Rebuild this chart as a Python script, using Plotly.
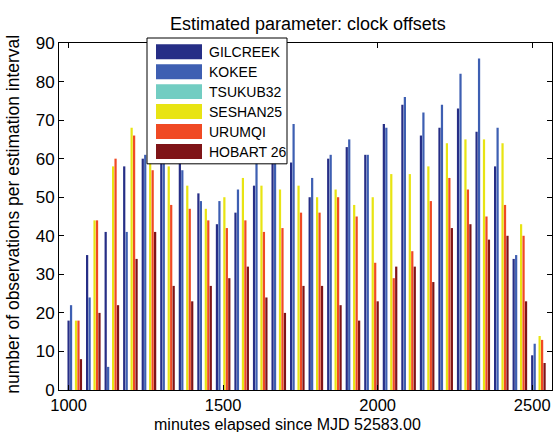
import plotly.graph_objects as go

# ---- data ----
minutes = [1020 + 60 * i for i in range(26)]
stations = ["GILCREEK", "KOKEE", "TSUKUB32", "SESHAN25", "URUMQI", "HOBART 26"]
colors = ["#262e86", "#3e5fb2", "#72cdc2", "#e8e413", "#f04a24", "#7f1417"]

gilcreek = [18, 35, 41, 58, 60, 64, 60, 51, 43, 46, 53, 62, 59, 50, 60, 63, 61, 69, 74, 66, 68, 73, 67, 58, 34, 9]
kokee    = [22, 24, 6, 41, 61, 62, 57, 49, 49, 52, 61, 66, 69, 55, 61, 65, 61, 68, 76, 72, 74, 82, 86, 68, 35, 12]
tsukub32 = [0] * 26
seshan25 = [18, 44, 58, 68, 62, 58, 53, 47, 50, 55, 53, 52, 53, 50, 52, 48, 50, 56, 56, 58, 64, 65, 65, 64, 43, 14]
urumqi   = [18, 44, 60, 66, 57, 48, 47, 44, 42, 44, 41, 42, 46, 46, 50, 45, 33, 29, 36, 49, 55, 52, 45, 48, 40, 13]
hobart26 = [8, 20, 22, 34, 41, 27, 23, 27, 29, 32, 24, 20, 27, 27, 22, 18, 23, 32, 32, 28, 42, 43, 39, 40, 23, 7]
series = [gilcreek, kokee, tsukub32, seshan25, urumqi, hobart26]

x_ticks = [1000, 1500, 2000, 2500]
y_ticks = list(range(0, 91, 10))

# ---- layout geometry (page pixels) ----
W, H = 556, 432
L, R, T, B = 59, 552, 43, 390.5
FONT = "Liberation Sans, Arial, sans-serif"

def px(xp):
    return (xp - L) / (R - L)

def py(yp):
    return (B - yp) / (B - T)

fig = go.Figure()
for name, vals, col in zip(stations, series, colors):
    fig.add_trace(go.Bar(x=minutes, y=vals, name=name, marker_color=col,
                         marker_line_width=0, showlegend=False))

fig.update_layout(
    width=W, height=H,
    margin=dict(l=L, r=W - R, t=T, b=H - B, pad=0),
    paper_bgcolor="white", plot_bgcolor="white",
    barmode="group", bargap=0.2, bargroupgap=0.1,
    font=dict(family=FONT, color="black", size=15),
)
fig.update_xaxes(range=[969, 2564], tickvals=x_ticks, ticks="inside", ticklen=5,
                 tickcolor="black", showline=True, linecolor="black", linewidth=1,
                 mirror="allticks", showgrid=False, zeroline=False,
                 tickfont=dict(size=16.5))
fig.update_yaxes(range=[0, 90], tickvals=y_ticks, ticks="inside", ticklen=5,
                 tickcolor="black", showline=True, linecolor="black", linewidth=1,
                 mirror="allticks", showgrid=False, zeroline=False,
                 tickfont=dict(size=17))

ann = []
ann.append(dict(text="Estimated parameter: clock offsets", xref="paper", yref="paper",
                x=px(308), y=py(24), showarrow=False, font=dict(size=18),
                xanchor="center", yanchor="middle"))
ann.append(dict(text="minutes elapsed since MJD 52583.00", xref="paper", yref="paper",
                x=px(287), y=py(425), showarrow=False, font=dict(size=16),
                xanchor="center", yanchor="middle"))
ann.append(dict(text="number of observations per estimation interval", xref="paper", yref="paper",
                x=px(13), y=py(215), showarrow=False, font=dict(size=17.5), textangle=-90,
                xanchor="center", yanchor="middle"))

# ---- legend box ----
shapes = [dict(type="rect", xref="paper", yref="paper", layer="above",
               x0=px(147), x1=px(287), y0=py(164), y1=py(38),
               fillcolor="white", line=dict(color="black", width=1))]
for i, (name, col) in enumerate(zip(stations, colors)):
    yc = 51.7 + 20 * i
    shapes.append(dict(type="rect", xref="paper", yref="paper", layer="above",
                       x0=px(156), x1=px(202), y0=py(yc + 7.5), y1=py(yc - 7.5),
                       fillcolor=col, line=dict(width=0)))
    ann.append(dict(text=name, xref="paper", yref="paper", x=px(207), y=py(yc),
                    showarrow=False, xanchor="left", yanchor="middle",
                    font=dict(size=14)))

fig.update_layout(annotations=ann, shapes=shapes)
fig.write_html("out.html", config={"displayModeBar": False},
               post_script="document.body.style.margin='0';")
